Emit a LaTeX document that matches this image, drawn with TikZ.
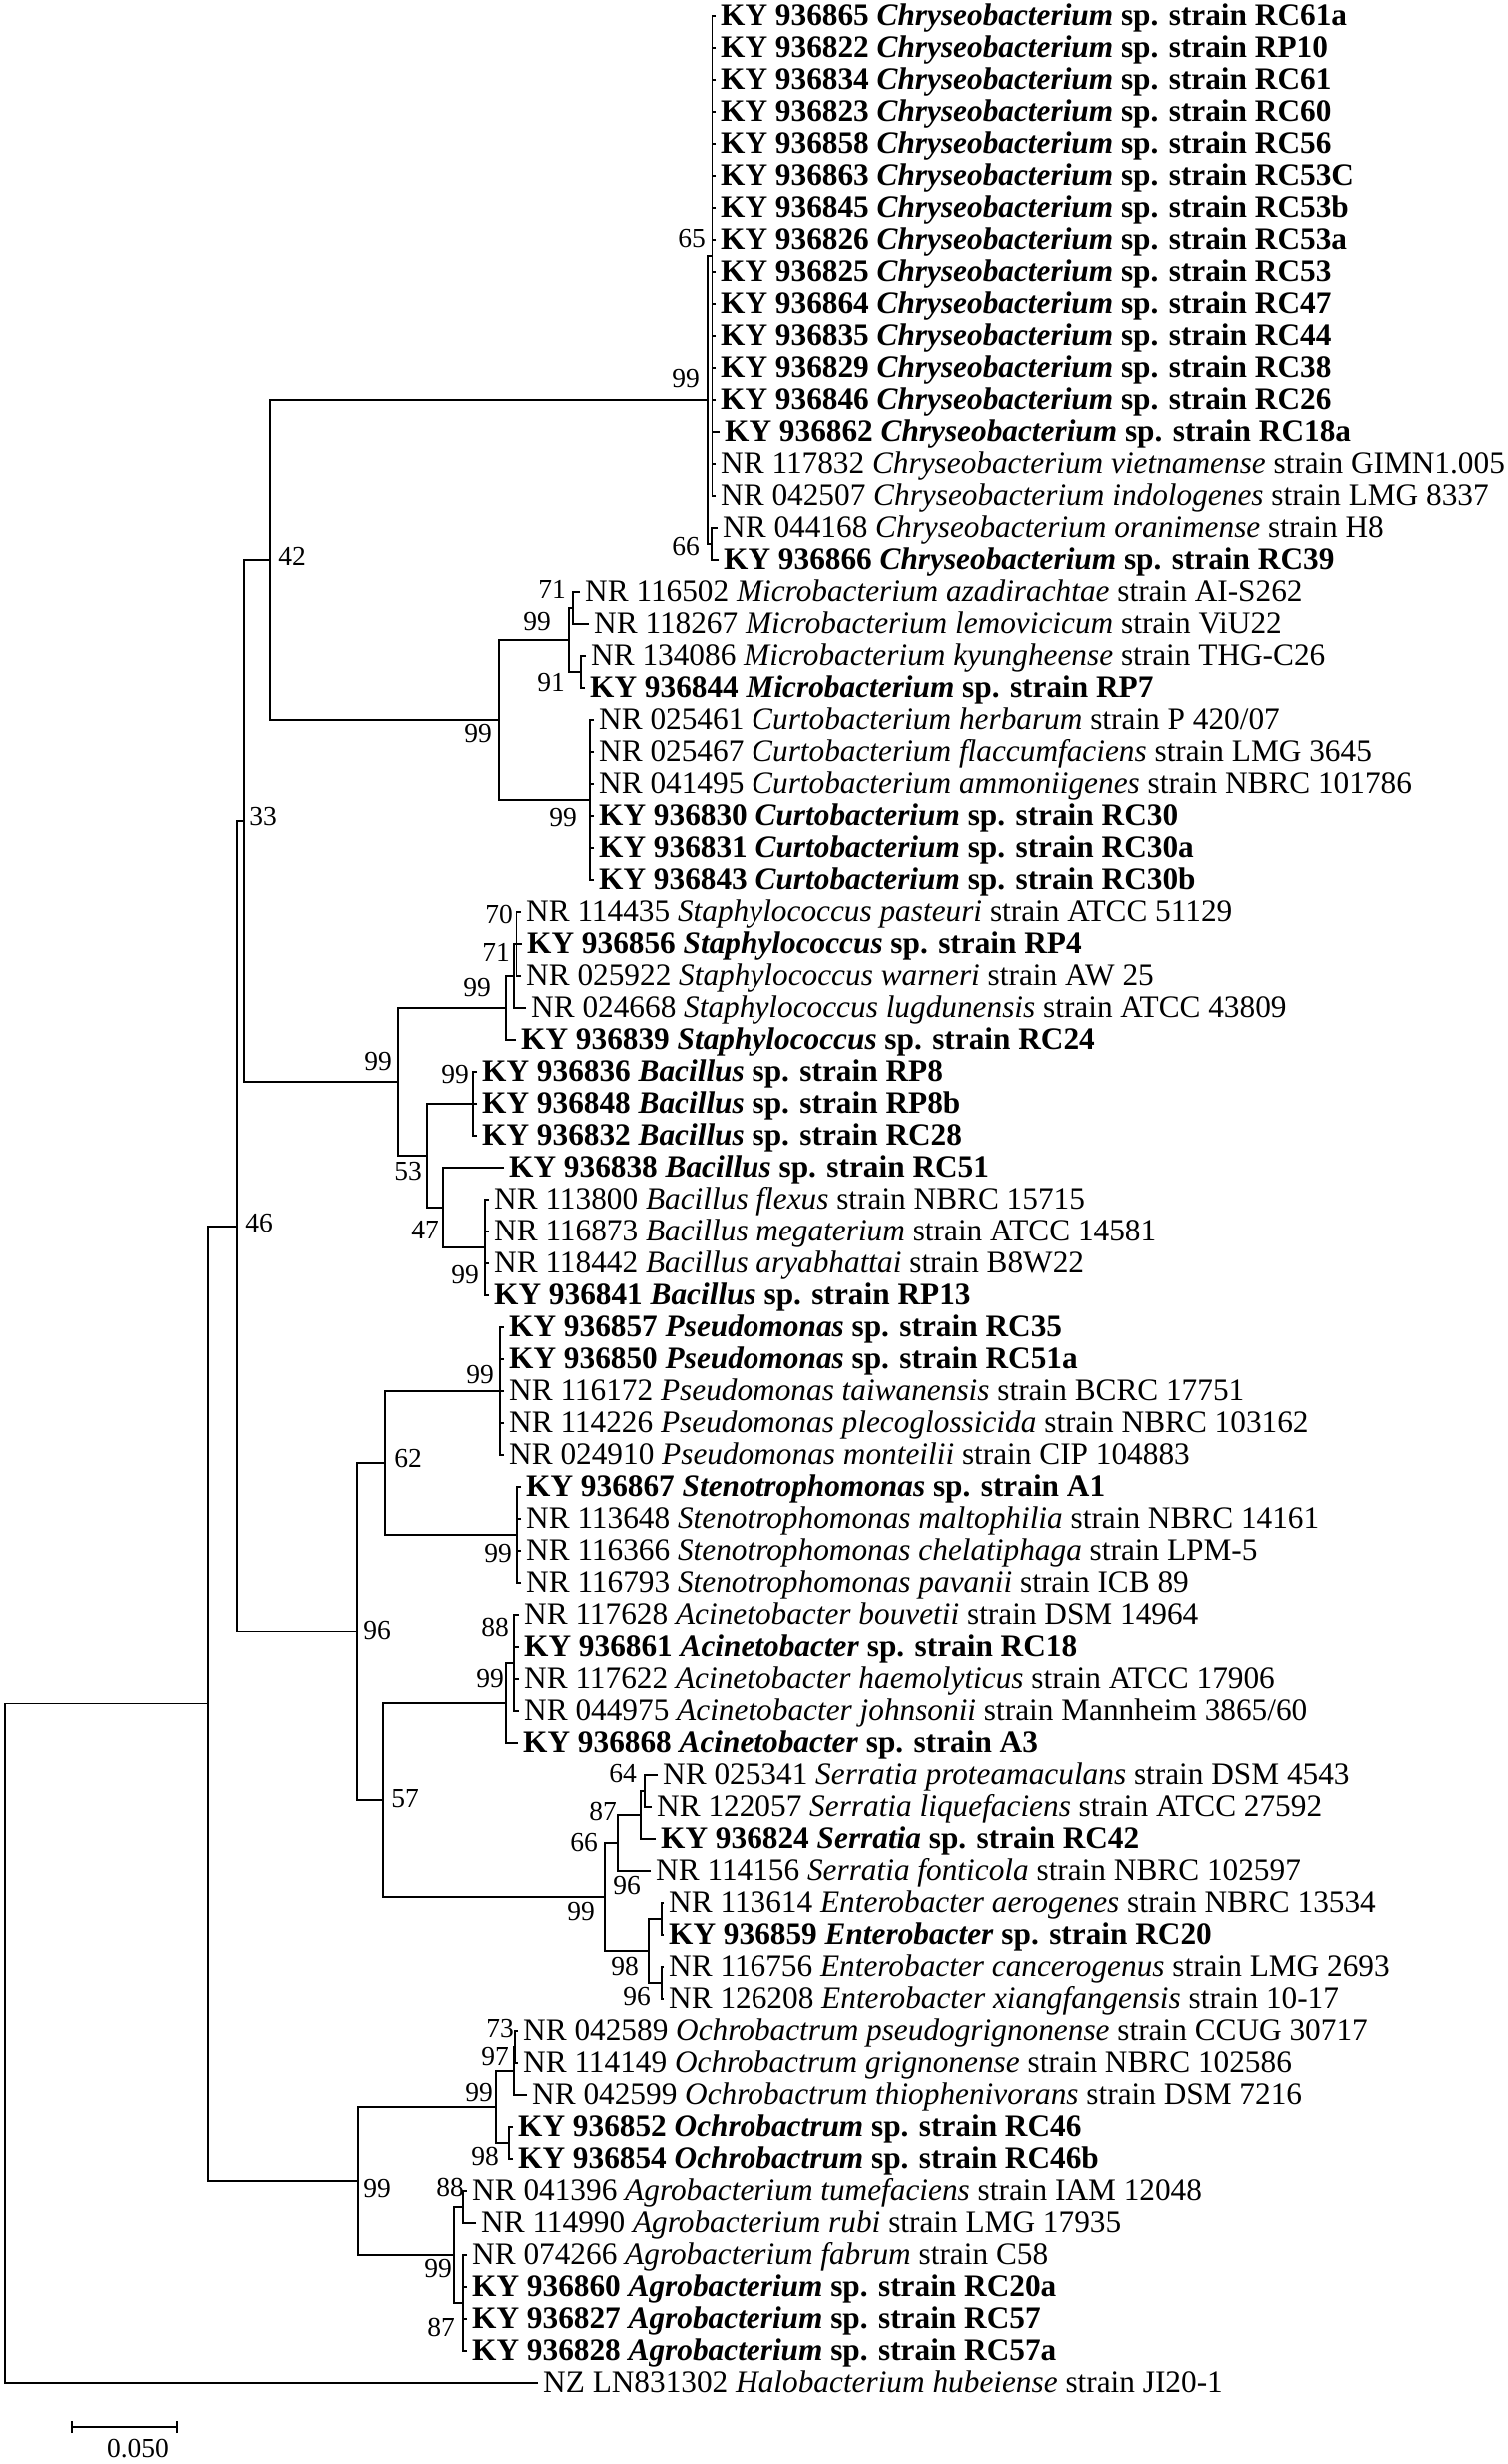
\documentclass[tikz,border=0pt]{standalone}
\usepackage{fontspec}
\setmainfont{Liberation Serif}
\newcommand\kyl[3]{\textbf{KY #1 \textit{#2} sp. strain #3}}
\newcommand\nrl[3]{NR #1 \textit{#2} strain #3}
\begin{document}
\begin{tikzpicture}[x=1pt,y=-1pt,
  br/.style={line width=1.5pt, black},
  leaf/.style={anchor=west, inner xsep=5pt, inner ysep=0pt, text height=19pt, text depth=0pt, font=\fontsize{31.3}{32}\selectfont},
  bs/.style={inner sep=0pt, font=\fontsize{27.5}{28}\selectfont}]
\useasboundingbox (0,0) rectangle (1508,2465);

% ---------- leaves ----------
\foreach \i/\acc/\st in {1/936865/RC61a,2/936822/RP10,3/936834/RC61,4/936823/RC60,5/936858/RC56,6/936863/RC53C,7/936845/RC53b,8/936826/RC53a,9/936825/RC53,10/936864/RC47,11/936835/RC44,12/936829/RC38,13/936846/RC26}
  \node[leaf] (l\i) at (716,{32*\i-16}) {\kyl{\acc}{Chryseobacterium}{\st}};
\node[leaf] (l14) at (720,432) {\kyl{936862}{Chryseobacterium}{RC18a}};
\node[leaf] (l15) at (716,464) {\nrl{117832}{Chryseobacterium vietnamense}{GIMN1.005}};
\node[leaf] (l16) at (716,496) {\nrl{042507}{Chryseobacterium indologenes}{LMG 8337}};
\node[leaf] (l17) at (718,528) {\nrl{044168}{Chryseobacterium oranimense}{H8}};
\node[leaf] (l18) at (719,560) {\kyl{936866}{Chryseobacterium}{RC39}};
\node[leaf] (l19) at (580,592) {\nrl{116502}{Microbacterium azadirachtae}{AI-S262}};
\node[leaf] (l20) at (589,624) {\nrl{118267}{Microbacterium lemovicicum}{ViU22}};
\node[leaf] (l21) at (586,656) {\nrl{134086}{Microbacterium kyungheense}{THG-C26}};
\node[leaf] (l22) at (585,688) {\kyl{936844}{Microbacterium}{RP7}};
\node[leaf] (l23) at (594,720) {\nrl{025461}{Curtobacterium herbarum}{P 420/07}};
\node[leaf] (l24) at (594,752) {\nrl{025467}{Curtobacterium flaccumfaciens}{LMG 3645}};
\node[leaf] (l25) at (594,784) {\nrl{041495}{Curtobacterium ammoniigenes}{NBRC 101786}};
\node[leaf] (l26) at (594,816) {\kyl{936830}{Curtobacterium}{RC30}};
\node[leaf] (l27) at (594,848) {\kyl{936831}{Curtobacterium}{RC30a}};
\node[leaf] (l28) at (594,880) {\kyl{936843}{Curtobacterium}{RC30b}};
\node[leaf] (l29) at (521,912) {\nrl{114435}{Staphylococcus pasteuri}{ATCC 51129}};
\node[leaf] (l30) at (522,944) {\kyl{936856}{Staphylococcus}{RP4}};
\node[leaf] (l31) at (521,976) {\nrl{025922}{Staphylococcus warneri}{AW 25}};
\node[leaf] (l32) at (526,1008) {\nrl{024668}{Staphylococcus lugdunensis}{ATCC 43809}};
\node[leaf] (l33) at (516,1040) {\kyl{936839}{Staphylococcus}{RC24}};
\node[leaf] (l34) at (477,1072) {\kyl{936836}{Bacillus}{RP8}};
\node[leaf] (l35) at (477,1104) {\kyl{936848}{Bacillus}{RP8b}};
\node[leaf] (l36) at (477,1136) {\kyl{936832}{Bacillus}{RC28}};
\node[leaf] (l37) at (504,1168) {\kyl{936838}{Bacillus}{RC51}};
\node[leaf] (l38) at (489,1200) {\nrl{113800}{Bacillus flexus}{NBRC 15715}};
\node[leaf] (l39) at (489,1232) {\nrl{116873}{Bacillus megaterium}{ATCC 14581}};
\node[leaf] (l40) at (489,1264) {\nrl{118442}{Bacillus aryabhattai}{B8W22}};
\node[leaf] (l41) at (489,1296) {\kyl{936841}{Bacillus}{RP13}};
\node[leaf] (l42) at (504,1328) {\kyl{936857}{Pseudomonas}{RC35}};
\node[leaf] (l43) at (504,1360) {\kyl{936850}{Pseudomonas}{RC51a}};
\node[leaf] (l44) at (504,1392) {\nrl{116172}{Pseudomonas taiwanensis}{BCRC 17751}};
\node[leaf] (l45) at (504,1424) {\nrl{114226}{Pseudomonas plecoglossicida}{NBRC 103162}};
\node[leaf] (l46) at (504,1456) {\nrl{024910}{Pseudomonas monteilii}{CIP 104883}};
\node[leaf] (l47) at (521,1488) {\kyl{936867}{Stenotrophomonas}{A1}};
\node[leaf] (l48) at (521,1520) {\nrl{113648}{Stenotrophomonas maltophilia}{NBRC 14161}};
\node[leaf] (l49) at (521,1552) {\nrl{116366}{Stenotrophomonas chelatiphaga}{LPM-5}};
\node[leaf] (l50) at (521,1584) {\nrl{116793}{Stenotrophomonas pavanii}{ICB 89}};
\node[leaf] (l51) at (519,1616) {\nrl{117628}{Acinetobacter bouvetii}{DSM 14964}};
\node[leaf] (l52) at (519,1648) {\kyl{936861}{Acinetobacter}{RC18}};
\node[leaf] (l53) at (519,1680) {\nrl{117622}{Acinetobacter haemolyticus}{ATCC 17906}};
\node[leaf] (l54) at (519,1712) {\nrl{044975}{Acinetobacter johnsonii}{Mannheim 3865/60}};
\node[leaf] (l55) at (518,1744) {\kyl{936868}{Acinetobacter}{A3}};
\node[leaf] (l56) at (658,1776) {\nrl{025341}{Serratia proteamaculans}{DSM 4543}};
\node[leaf] (l57) at (652,1808) {\nrl{122057}{Serratia liquefaciens}{ATCC 27592}};
\node[leaf] (l58) at (656,1840) {\kyl{936824}{Serratia}{RC42}};
\node[leaf] (l59) at (651,1872) {\nrl{114156}{Serratia fonticola}{NBRC 102597}};
\node[leaf] (l60) at (664,1904) {\nrl{113614}{Enterobacter aerogenes}{NBRC 13534}};
\node[leaf] (l61) at (664,1936) {\kyl{936859}{Enterobacter}{RC20}};
\node[leaf] (l62) at (664,1968) {\nrl{116756}{Enterobacter cancerogenus}{LMG 2693}};
\node[leaf] (l63) at (664,2000) {\nrl{126208}{Enterobacter xiangfangensis}{10-17}};
\node[leaf] (l64) at (518,2032) {\nrl{042589}{Ochrobactrum pseudogrignonense}{CCUG 30717}};
\node[leaf] (l65) at (518,2064) {\nrl{114149}{Ochrobactrum grignonense}{NBRC 102586}};
\node[leaf] (l66) at (527,2096) {\nrl{042599}{Ochrobactrum thiophenivorans}{DSM 7216}};
\node[leaf] (l67) at (513,2128) {\kyl{936852}{Ochrobactrum}{RC46}};
\node[leaf] (l68) at (513,2160) {\kyl{936854}{Ochrobactrum}{RC46b}};
\node[leaf] (l69) at (467,2192) {\nrl{041396}{Agrobacterium tumefaciens}{IAM 12048}};
\node[leaf] (l70) at (476,2224) {\nrl{114990}{Agrobacterium rubi}{LMG 17935}};
\node[leaf] (l71) at (467,2256) {\nrl{074266}{Agrobacterium fabrum}{C58}};
\node[leaf] (l72) at (467,2288) {\kyl{936860}{Agrobacterium}{RC20a}};
\node[leaf] (l73) at (467,2320) {\kyl{936827}{Agrobacterium}{RC57}};
\node[leaf] (l74) at (467,2352) {\kyl{936828}{Agrobacterium}{RC57a}};
\node[leaf] (l75) at (538,2384) {NZ LN831302 \textit{Halobacterium hubeiense} strain JI20-1};

% ---------- internal nodes ----------
\coordinate (nJ) at (712.7,256);
\coordinate (nK) at (712,544);
\coordinate (nF) at (708,400);
\coordinate (n71) at (573,608);
\coordinate (n91) at (581,672);
\coordinate (nG) at (569,640);
\coordinate (nI) at (590,800);
\coordinate (nH) at (499,720);
\coordinate (nE) at (270,560);
\coordinate (nP) at (516.7,944);
\coordinate (nO) at (514,976);
\coordinate (nM) at (506,1008);
\coordinate (nQ) at (473,1104);
\coordinate (nS) at (485,1248);
\coordinate (nR) at (443,1208);
\coordinate (nN) at (427,1156);
\coordinate (nL) at (398,1082);
\coordinate (nC) at (244,821);
\coordinate (nV) at (500,1392);
\coordinate (nW) at (517,1536);
\coordinate (nT) at (385,1464);
\coordinate (nZ) at (514,1664);
\coordinate (nX) at (506,1704);
\coordinate (nAC) at (645,1792);
\coordinate (nAD) at (641,1816);
\coordinate (nAL) at (618,1844);
\coordinate (nE1) at (662,1920);
\coordinate (nE2) at (662,1984);
\coordinate (nAB) at (649,1952);
\coordinate (nY) at (605,1898);
\coordinate (nU) at (383,1801);
\coordinate (nD) at (357,1632.5);
\coordinate (nB) at (237,1226.75);
\coordinate (n73) at (515,2048);
\coordinate (nAH) at (514,2072);
\coordinate (nAI) at (509,2144);
\coordinate (nAF) at (496,2108);
\coordinate (nAJ) at (463,2208);
\coordinate (nAK) at (463,2304);
\coordinate (nAG) at (454,2256);
\coordinate (nAE) at (358,2182);
\coordinate (nA) at (208,1704.4);
\coordinate (nR0) at (5,2044.2);

% ---------- branches ----------
\foreach \i in {1,...,16} \draw[br] (l\i.west) -| (nJ);
\foreach \i in {17,18} \draw[br] (l\i.west) -| (nK);
\draw[br] (nJ) -| (nF); \draw[br] (nK) -| (nF);
\foreach \i in {19,20} \draw[br] (l\i.west) -| (n71);
\foreach \i in {21,22} \draw[br] (l\i.west) -| (n91);
\draw[br] (n71) -| (nG); \draw[br] (n91) -| (nG);
\foreach \i in {23,...,28} \draw[br] (l\i.west) -| (nI);
\draw[br] (nG) -| (nH); \draw[br] (nI) -| (nH);
\draw[br] (nF) -| (nE); \draw[br] (nH) -| (nE);
\foreach \i in {29,30,31} \draw[br] (l\i.west) -| (nP);
\draw[br] (nP) -| (nO); \draw[br] (l32.west) -| (nO);
\draw[br] (nO) -| (nM); \draw[br] (l33.west) -| (nM);
\foreach \i in {34,35,36} \draw[br] (l\i.west) -| (nQ);
\foreach \i in {38,...,41} \draw[br] (l\i.west) -| (nS);
\draw[br] (l37.west) -| (nR); \draw[br] (nS) -| (nR);
\draw[br] (nQ) -| (nN); \draw[br] (nR) -| (nN);
\draw[br] (nM) -| (nL); \draw[br] (nN) -| (nL);
\draw[br] (nE) -| (nC); \draw[br] (nL) -| (nC);
\foreach \i in {42,...,46} \draw[br] (l\i.west) -| (nV);
\foreach \i in {47,...,50} \draw[br] (l\i.west) -| (nW);
\draw[br] (nV) -| (nT); \draw[br] (nW) -| (nT);
\foreach \i in {51,...,54} \draw[br] (l\i.west) -| (nZ);
\draw[br] (nZ) -| (nX); \draw[br] (l55.west) -| (nX);
\foreach \i in {56,57} \draw[br] (l\i.west) -| (nAC);
\draw[br] (nAC) -| (nAD); \draw[br] (l58.west) -| (nAD);
\draw[br] (nAD) -| (nAL); \draw[br] (l59.west) -| (nAL);
\foreach \i in {60,61} \draw[br] (l\i.west) -| (nE1);
\foreach \i in {62,63} \draw[br] (l\i.west) -| (nE2);
\draw[br] (nE1) -| (nAB); \draw[br] (nE2) -| (nAB);
\draw[br] (nAL) -| (nY); \draw[br] (nAB) -| (nY);
\draw[br] (nX) -| (nU); \draw[br] (nY) -| (nU);
\draw[br] (nT) -| (nD); \draw[br] (nU) -| (nD);
\draw[br] (nC) -| (nB); \draw[br] (nD) -| (nB);
\foreach \i in {64,65} \draw[br] (l\i.west) -| (n73);
\draw[br] (n73) -| (nAH); \draw[br] (l66.west) -| (nAH);
\foreach \i in {67,68} \draw[br] (l\i.west) -| (nAI);
\draw[br] (nAH) -| (nAF); \draw[br] (nAI) -| (nAF);
\foreach \i in {69,70} \draw[br] (l\i.west) -| (nAJ);
\foreach \i in {71,...,74} \draw[br] (l\i.west) -| (nAK);
\draw[br] (nAJ) -| (nAG); \draw[br] (nAK) -| (nAG);
\draw[br] (nAF) -| (nAE); \draw[br] (nAG) -| (nAE);
\draw[br] (nB) -| (nA); \draw[br] (nAE) -| (nA);
\draw[br] (nA) -| (nR0); \draw[br] (l75.west) -| (nR0);

% ---------- bootstrap values ----------
\node[bs] (b1) at (692,239) {65};
\node[bs] (b2) at (686,379) {99};
\node[bs] (b3) at (686,547) {66};
\node[bs] (b4) at (292,556) {42};
\node[bs] (b5) at (552,589) {71};
\node[bs] (b6) at (537,622) {99};
\node[bs] (b7) at (551,683) {91};
\node[bs] (b8) at (478,734) {99};
\node[bs] (b9) at (563,818) {99};
\node[bs] (b10) at (263,817) {33};
\node[bs] (b11) at (499,914) {70};
\node[bs] (b12) at (496,952) {71};
\node[bs] (b13) at (477,988) {99};
\node[bs] (b14) at (378,1062) {99};
\node[bs] (b15) at (455,1075) {99};
\node[bs] (b16) at (408,1172) {53};
\node[bs] (b17) at (425,1230) {47};
\node[bs] (b18) at (465,1276) {99};
\node[bs] (b19) at (259,1224) {46};
\node[bs] (b20) at (480,1376) {99};
\node[bs] (b21) at (408,1460) {62};
\node[bs] (b22) at (498,1555) {99};
\node[bs] (b23) at (377,1632) {96};
\node[bs] (b24) at (495,1628) {88};
\node[bs] (b25) at (490,1680) {99};
\node[bs] (b26) at (405,1800) {57};
\node[bs] (b27) at (623,1775) {64};
\node[bs] (b28) at (603,1812) {87};
\node[bs] (b29) at (584,1844) {66};
\node[bs] (b30) at (627,1887) {96};
\node[bs] (b31) at (581,1913) {99};
\node[bs] (b32) at (625,1967) {98};
\node[bs] (b33) at (637,1998) {96};
\node[bs] (b34) at (500,2030) {73};
\node[bs] (b35) at (495,2058) {97};
\node[bs] (b36) at (479,2094) {99};
\node[bs] (b37) at (485,2157) {98};
\node[bs] (b38) at (377,2190) {99};
\node[bs] (b39) at (450,2188) {88};
\node[bs] (b40) at (438,2270) {99};
\node[bs] (b41) at (441,2328) {87};

% ---------- scale bar ----------
\coordinate (s1) at (72,2428);
\coordinate (s2) at (177,2428);
\draw[br] (s1) -- (s2);
\draw[br] ([yshift=-6pt]s1) -- ([yshift=6pt]s1);
\draw[br] ([yshift=-6pt]s2) -- ([yshift=6pt]s2);
\node[bs] (sbl) at (138,2450) {0.050};
\end{tikzpicture}
\end{document}
